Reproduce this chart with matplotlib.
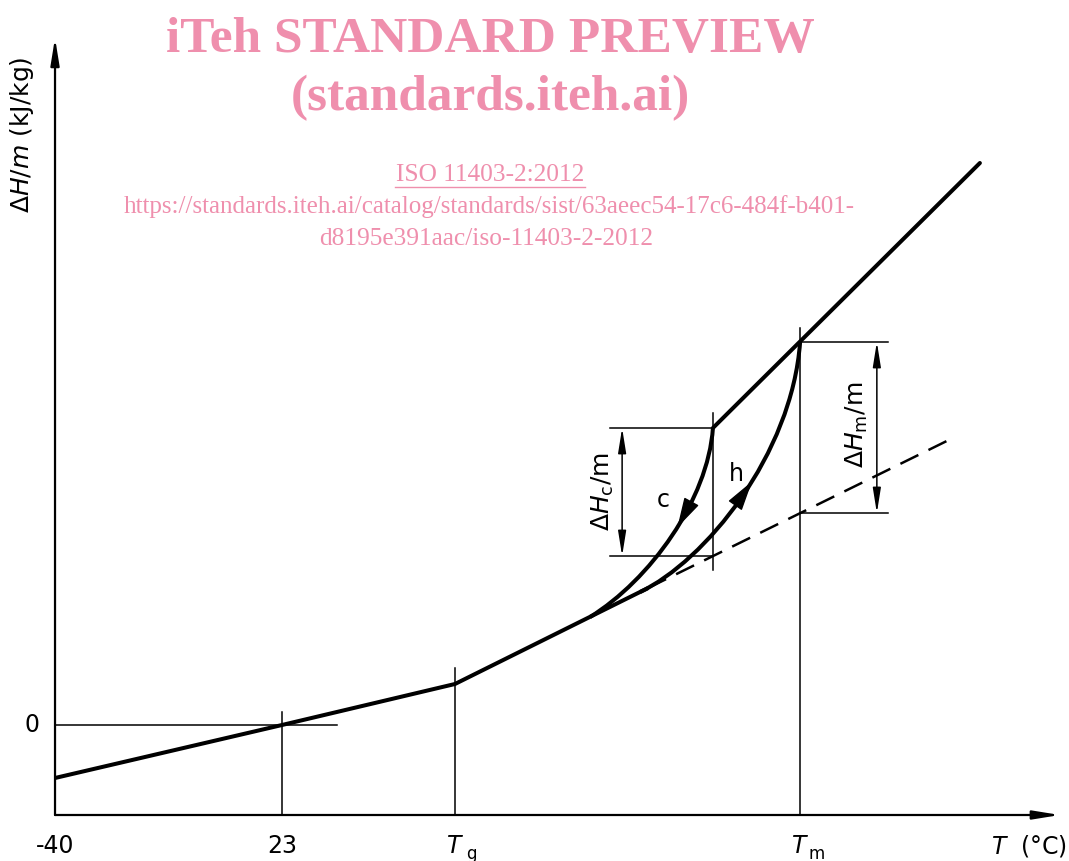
import numpy as np
import matplotlib
matplotlib.use("Agg")
import matplotlib.pyplot as plt
from matplotlib.path import Path
from matplotlib.patches import PathPatch
from matplotlib import font_manager

# ---------------- data (schematic) ----------------
# x: temperature (deg C, schematic scale), y: enthalpy change per mass (arb. kJ/kg)
tick_T = [-40, 23, 71.0, 166.8]          # -40, 23, Tg, Tm
tick_text = ["-40", "23", "T", "T"]
tick_sub = ["", "", "g", "m"]

glass_T = [-40.0, 23.0, 71.0]            # glassy state
glass_H = [-5.3, 0.0, 4.1]
liquid_T = [71.0, 124.6]                 # above Tg (solid part)
liquid_H = [4.1, 13.7]
extrap_T = [124.6, 209.2]                # extrapolated liquid line (dashed)
extrap_H = [13.7, 28.7]
melt_T = [142.6, 216.7]                  # melt line
melt_H = [29.7, 56.2]
cool_T = [142.6, 141.2, 125.1, 108.5]    # cooling curve c (Bezier controls)
cool_H = [29.7, 22.5, 14.5, 10.8]
heat_T = [122.4, 140.4, 164.5, 166.8]    # heating curve h (Bezier controls)
heat_H = [13.3, 16.4, 27.0, 38.3]

T_C = 142.6
T_M = 166.8
dHc_levels = [16.9, 29.7]
dHm_levels = [21.2, 38.3]

# ---------------- styling ----------------
avail = {f.name for f in font_manager.fontManager.ttflist}
label_font = "Liberation Sans Narrow" if "Liberation Sans Narrow" in avail else "DejaVu Sans"
plt.rcParams["font.family"] = [label_font, "DejaVu Sans"]
plt.rcParams["mathtext.fontset"] = "dejavusans"

LW_MAIN = 2.9
LW_AX = 1.6
LW_THIN = 1.1
PINK = "#EF8FAD"

fig = plt.figure(figsize=(10.69, 8.61), dpi=100)
ax = fig.add_axes([0, 0, 1, 1])
ax.set_xlim(-55.27, 241.43)
ax.set_ylim(-13.6, 72.5)
ax.axis("off")

x_axis_y = -9.0
y_axis_x = -40.0
x_axis_end = 238.9
y_axis_end = 68.7

# axes with arrows
ax.annotate("", xy=(x_axis_end, x_axis_y), xytext=(y_axis_x, x_axis_y),
            arrowprops=dict(arrowstyle="-|>,head_length=0.8,head_width=0.13", lw=LW_AX,
                            color="black", shrinkA=0, shrinkB=0, mutation_scale=20))
ax.annotate("", xy=(y_axis_x, y_axis_end), xytext=(y_axis_x, x_axis_y),
            arrowprops=dict(arrowstyle="-|>,head_length=0.8,head_width=0.13", lw=LW_AX,
                            color="black", shrinkA=0, shrinkB=0, mutation_scale=20))

# thin construction lines
ax.plot([y_axis_x, 38.3], [0, 0], color="black", lw=LW_THIN)
ax.plot([23, 23], [x_axis_y, 1.3], color="black", lw=LW_THIN)
ax.plot([71.0, 71.0], [x_axis_y, 5.7], color="black", lw=LW_THIN)
ax.plot([T_C, T_C], [15.5, 31.2], color="black", lw=LW_THIN)
ax.plot([T_M, T_M], [x_axis_y, 39.7], color="black", lw=LW_THIN)
for lev in dHc_levels:
    ax.plot([114.0, T_C], [lev, lev], color="black", lw=LW_THIN)
for lev in dHm_levels:
    ax.plot([T_M, 191.2], [lev, lev], color="black", lw=LW_THIN)

dim_style = "<|-|>,head_length=0.75,head_width=0.12"
ax.annotate("", xy=(117.4, dHc_levels[0]), xytext=(117.4, dHc_levels[1]),
            arrowprops=dict(arrowstyle=dim_style, lw=LW_THIN, color="black",
                            shrinkA=0, shrinkB=0, mutation_scale=20))
ax.annotate("", xy=(188.1, dHm_levels[0]), xytext=(188.1, dHm_levels[1]),
            arrowprops=dict(arrowstyle=dim_style, lw=LW_THIN, color="black",
                            shrinkA=0, shrinkB=0, mutation_scale=20))

# main curve
ax.plot(glass_T + liquid_T[1:], glass_H + liquid_H[1:], color="black", lw=LW_MAIN,
        solid_joinstyle="miter", solid_capstyle="butt")
ax.plot(melt_T, melt_H, color="black", lw=LW_MAIN, solid_capstyle="round")
ax.plot(extrap_T, extrap_H, color="black", lw=1.8, dashes=(8, 4.5))

codes = [Path.MOVETO, Path.CURVE4, Path.CURVE4, Path.CURVE4]
for cT, cH in [(cool_T, cool_H), (heat_T, heat_H)]:
    p = Path(np.column_stack([cT, cH]), codes)
    ax.add_patch(PathPatch(p, fill=False, lw=LW_MAIN, edgecolor="black"))


def bez(cT, cH, t):
    P = np.column_stack([cT, cH])
    return ((1 - t) ** 3 * P[0] + 3 * (1 - t) ** 2 * t * P[1]
            + 3 * (1 - t) * t ** 2 * P[2] + t ** 3 * P[3])


curve_arrow = "-|>,head_length=0.95,head_width=0.26"
for cT, cH, t_tail, t_tip in [(cool_T, cool_H, 0.32, 0.46), (heat_T, heat_H, 0.43, 0.56)]:
    ax.annotate("", xy=tuple(bez(cT, cH, t_tip)), xytext=tuple(bez(cT, cH, t_tail)),
                arrowprops=dict(arrowstyle=curve_arrow, lw=1.0, color="black",
                                shrinkA=0, shrinkB=0, mutation_scale=20))

# curve labels
ax.text(128.7, 22.5, "c", fontsize=17, ha="center", va="center")
ax.text(149.0, 25.1, "h", fontsize=17, ha="center", va="center")
ax.text(112.1, 23.3, r"$\Delta H_{\rm c}$/m", fontsize=18, rotation=90,
        ha="center", va="center")
ax.text(182.6, 30.0, r"$\Delta H_{\rm m}$/m", fontsize=18, rotation=90,
        ha="center", va="center")

# tick labels
lab_y = -12.1
for T, t, s in zip(tick_T, tick_text, tick_sub):
    if s:
        ax.text(T - 0.3, lab_y, t, fontsize=17, style="italic", ha="center", va="center")
        ax.text(T + 4.6, lab_y - 0.8, s, fontsize=12, ha="center", va="center")
    else:
        ax.text(T, lab_y, t, fontsize=17, ha="center", va="center")
ax.text(-46.3, 0, "0", fontsize=17, ha="center", va="center")
ax.text(240.8, lab_y, r"$T$  (°C)", fontsize=17, ha="right", va="center")
ax.text(-49.2, 59.0, r"$\Delta H/m$ (kJ/kg)", fontsize=18, rotation=90,
        ha="center", va="center")

# watermark
fig.text(490 / 1069, 1 - 40 / 861, "iTeh STANDARD PREVIEW", fontsize=37,
         family="Liberation Serif", weight="bold", color=PINK, ha="center", va="center")
fig.text(490 / 1069, 1 - 98 / 861, "(standards.iteh.ai)", fontsize=37,
         family="Liberation Serif", weight="bold", color=PINK, ha="center", va="center")
fig.text(490 / 1069, 1 - 175 / 861, "ISO 11403-2:2012", fontsize=18.3,
         family="Liberation Serif", color=PINK, ha="center", va="center")
fig.lines.append(plt.Line2D([395 / 1069, 585 / 1069], [1 - 187 / 861, 1 - 187 / 861],
                            transform=fig.transFigure, color=PINK, lw=1.0))
fig.text(489 / 1069, 1 - 207 / 861,
         "https://standards.iteh.ai/catalog/standards/sist/63aeec54-17c6-484f-b401-",
         fontsize=18, family="Liberation Serif", color=PINK, ha="center", va="center")
fig.text(486 / 1069, 1 - 239 / 861, "d8195e391aac/iso-11403-2-2012", fontsize=18.3,
         family="Liberation Serif", color=PINK, ha="center", va="center")

fig.savefig("out.png", dpi=100)
